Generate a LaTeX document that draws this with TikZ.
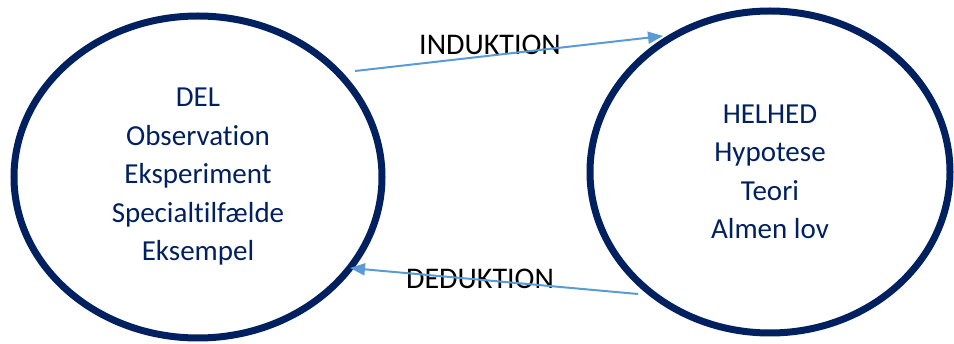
\documentclass[tikz,border=0pt]{standalone}
\usepackage{fontspec}
\setmainfont{Carlito}[Ligatures={NoCommon}]
\usetikzlibrary{shapes.geometric,arrows.meta}
\definecolor{navy}{HTML}{002060}
\definecolor{arrowblue}{HTML}{5B9BD5}

\begin{document}
\begin{tikzpicture}[x=1pt,y=1pt,
  circ/.style={ellipse, draw=navy, line width=7pt, inner sep=0pt, text=navy, align=center,
    font=\fontsize{29}{38.5}\selectfont},
  lbl/.style={anchor=base, inner sep=0pt, font=\fontsize{30}{36}\selectfont},
  arr/.style={draw=arrowblue, line width=2pt, -{Triangle[length=15pt,width=12pt]}}]
\useasboundingbox (0,0) rectangle (954,-344);
\node[circ, minimum width=368pt, minimum height=322pt] (del) at (198,-177)
  {DEL\\Observation\\Eksperiment\\Specialtilfælde\\Eksempel};
\node[circ, minimum width=360pt, minimum height=322pt] (helhed) at (770,-172)
  {HELHED\\Hypotese\\Teori\\Almen lov};
\node[lbl] (ind) at (490,-55) {INDUKTION};
\node[lbl] (ded) at (480,-289) {DEDUKTION};
% ends of the two arrows, next to the rims
\coordinate (ind-a) at ([shift={(157,106)}]del.center);
\coordinate (ind-b) at ([shift={(-107,136)}]helhed.center);
\coordinate (ded-a) at ([shift={(-132,-122)}]helhed.center);
\coordinate (ded-b) at ([shift={(152,-91)}]del.center);
\draw[arr] (ind-a) -- (ind-b);
\draw[arr] (ded-a) -- (ded-b);
\end{tikzpicture}
\end{document}
